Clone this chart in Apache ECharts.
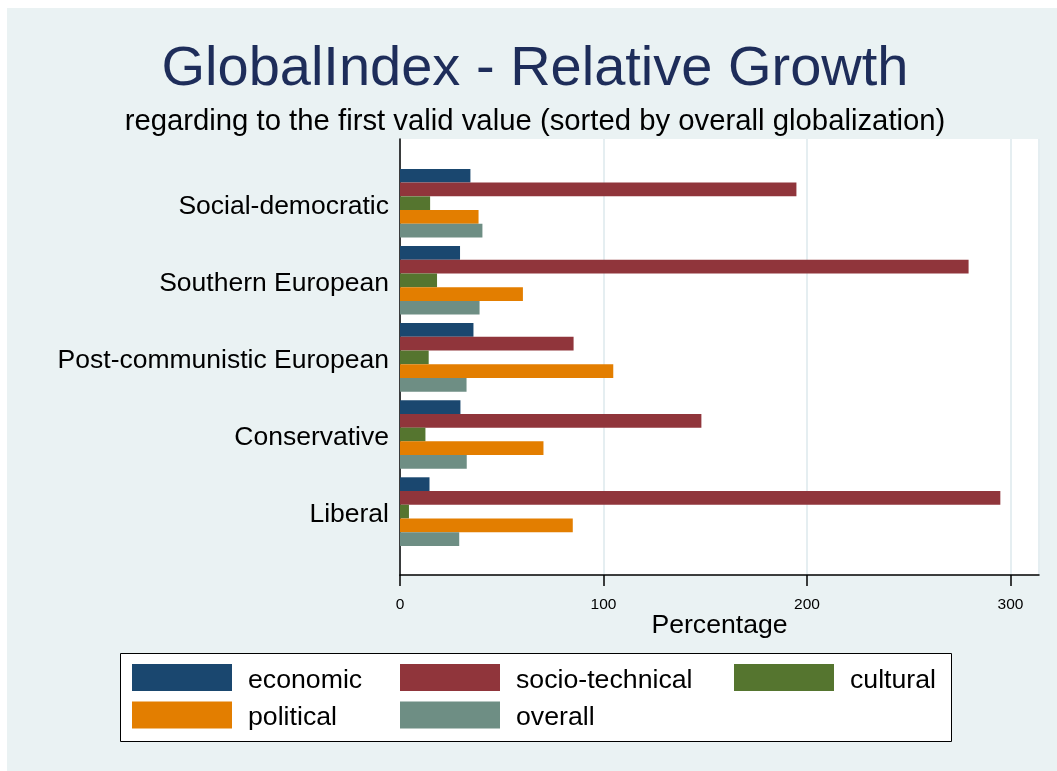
<!DOCTYPE html>
<html>
<head>
<meta charset="utf-8">
<script src="https://cdn.jsdelivr.net/npm/echarts@6/dist/echarts.min.js"></script>
<style>
  html, body { margin: 0; padding: 0; background: #ffffff; }
  #bg { position: absolute; left: 7px; top: 8px; width: 1050px; height: 763px; background: #EAF2F3; }
  #chart { position: absolute; left: 0; top: 0; width: 1057px; height: 771px; }
</style>
</head>
<body>
<div id="bg"></div>
<div id="chart"></div>
<script>
const categories = ['Social-democratic', 'Southern European', 'Post-communistic European', 'Conservative', 'Liberal'];
const seriesNames = ['economic', 'socio-technical', 'cultural', 'political', 'overall'];
const economic = [34.6, 29.5, 36.1, 29.7, 14.5];
const socioTechnical = [194.8, 279.4, 85.3, 148.1, 295.0];
const cultural = [14.8, 18.2, 14.1, 12.5, 4.4];
const political = [38.6, 60.4, 104.8, 70.5, 84.9];
const overall = [40.5, 39.1, 32.7, 32.8, 29.1];
const xTicks = [0, 100, 200, 300];

const colors = ['#1A476F', '#90353B', '#55752F', '#E37E00', '#6E8E84'];
const values = [economic, socioTechnical, cultural, political, overall];
const FONT = '"Liberation Sans", Arial, sans-serif';

const chart = echarts.init(document.getElementById('chart'), null, { renderer: 'canvas' });

const series = seriesNames.map((n, i) => ({
  name: n,
  type: 'bar',
  xAxisIndex: 1,
  yAxisIndex: 1,
  data: values[i],
  barGap: '0%',
  barCategoryGap: '11%',
  itemStyle: { color: colors[i] },
  emphasis: { disabled: true },
  silent: true
}));

const legendCommon = {
  orient: 'vertical',
  top: 661,
  padding: 0,
  itemWidth: 100,
  itemHeight: 27,
  itemGap: 4.5,
  icon: 'rect',
  selectedMode: false,
  formatter: name => '{a|' + name + '}',
  textStyle: {
    fontFamily: FONT, fontSize: 26.7, color: '#000',
    rich: { a: { fontFamily: FONT, fontSize: 26.7, color: '#000', lineHeight: 27, padding: [6, 0, 0, 11] } }
  }
};

chart.setOption({
  animation: false,
  color: colors,
  graphic: [
    { type: 'rect', shape: { x: 120.5, y: 653.5, width: 831, height: 88 },
      style: { fill: '#ffffff', stroke: '#000000', lineWidth: 1 }, z: -1, silent: true },
    { type: 'text', x: 535, y: 70, style: { text: 'GlobalIndex - Relative Growth', font: '56px ' + FONT,
      fill: '#1E2D5A', align: 'center', verticalAlign: 'middle' }, silent: true },
    { type: 'text', x: 535, y: 122, style: { text: 'regarding to the first valid value (sorted by overall globalization)',
      font: '29.3px ' + FONT, fill: '#000', align: 'center', verticalAlign: 'middle' }, silent: true }
  ],
  legend: [
    Object.assign({}, legendCommon, { left: 132, data: ['economic', 'political'] }),
    Object.assign({}, legendCommon, { left: 400, data: ['socio-technical', 'overall'] }),
    Object.assign({}, legendCommon, { left: 734, data: ['cultural'] })
  ],
  grid: [
    { left: 400, top: 139, width: 639, height: 436, show: true, backgroundColor: '#ffffff', borderWidth: 0, containLabel: false },
    { left: 400, top: 164.65, width: 639, height: 385.5, show: false, containLabel: false }
  ],
  xAxis: [
    {
      gridIndex: 0, type: 'value', min: 0, max: 314, interval: 100,
      axisLine: { show: true, lineStyle: { color: '#000', width: 1.5 } },
      axisTick: { show: true, inside: false, length: 11, lineStyle: { color: '#000', width: 1.5 } },
      axisLabel: { show: true, margin: 22, fontSize: 15.5, fontFamily: FONT, color: '#000', showMaxLabel: false,
        formatter: v => (xTicks.indexOf(v) >= 0 ? String(v) : '') },
      splitLine: { show: true, lineStyle: { color: '#E5EEF1', width: 2 } },
      name: 'Percentage', nameLocation: 'middle', nameGap: 37, nameMoveOverlap: false,
      nameTextStyle: { fontSize: 26.6, fontFamily: FONT, color: '#000' }
    },
    {
      gridIndex: 1, type: 'value', min: 0, max: 314, show: false
    }
  ],
  yAxis: [
    {
      gridIndex: 0, type: 'value', min: 0, max: 1,
      axisLine: { show: true, lineStyle: { color: '#000', width: 1.5 } },
      axisTick: { show: false }, axisLabel: { show: false }, splitLine: { show: false }
    },
    {
      gridIndex: 1, type: 'category', data: categories, inverse: true,
      axisLine: { show: false }, axisTick: { show: false }, splitLine: { show: false },
      axisLabel: { margin: 11, fontSize: 26.5, fontFamily: FONT, color: '#000', verticalAlign: 'top', lineHeight: 6 }
    }
  ],
  series: series
});
</script>
</body>
</html>
